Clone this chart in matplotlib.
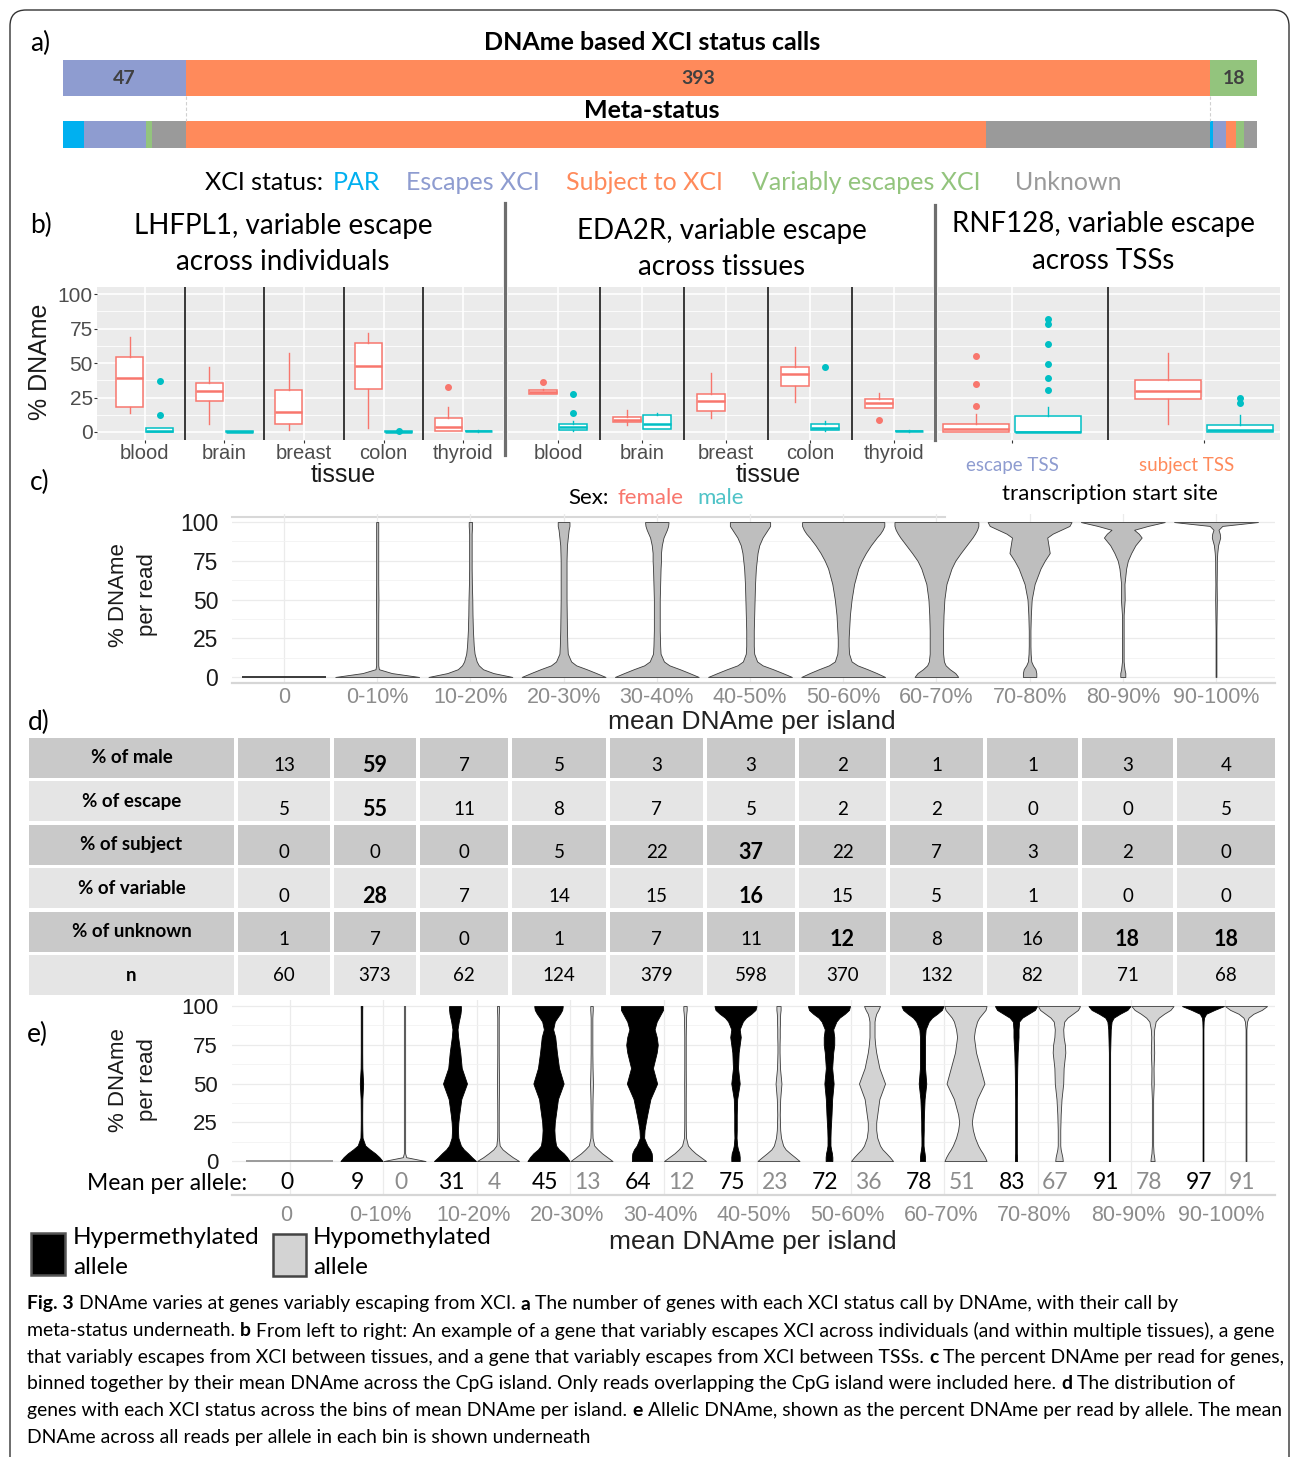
import numpy as np
import matplotlib
matplotlib.use("Agg")
import matplotlib.pyplot as plt
from matplotlib import font_manager
from matplotlib.patches import FancyBboxPatch, Rectangle
from matplotlib.transforms import ScaledTranslation

W, H = 1292, 1457
plt.rcParams["font.family"] = ["Liberation Sans", "DejaVu Sans"]
CAL = ["Lato", "DejaVu Sans"]
ARIAL = ["Liberation Sans", "DejaVu Sans"]
_names = {f.name for f in font_manager.fontManager.ttflist}
CAP_FONT = ["Liberation Sans Narrow", "DejaVu Sans"] if "Liberation Sans Narrow" in _names else CAL

# ---------------- panel a: XCI status calls ----------------
STATUS_NAMES = ["PAR", "Escapes XCI", "Subject to XCI", "Variably escapes XCI", "Unknown"]
STATUS_COLORS = ["#00B0F0", "#8E9CD0", "#FF8A5B", "#93C47D", "#9A9A9A"]
CALL_COUNTS = [47, 393, 18]          # escape, subject, variable
CALL_COLORS = ["#8E9CD0", "#FF8A5B", "#93C47D"]
# meta-status inside each DNAme call, in STATUS_NAMES order
META_IN_ESCAPE = [8, 24, 0, 2, 13]
META_IN_SUBJECT = [0, 0, 307, 0, 86]
META_IN_VARIABLE = [1, 5, 4, 3, 5]

# ---------------- panel b: box summaries (whislo, q1, med, q3, whishi) ----------------
FEMALE_C, MALE_C = "#F8766D", "#00BFC4"
TISSUES = ["blood", "brain", "breast", "colon", "thyroid"]

LHFPL1_F = [(13.7, 17.9, 39.2, 54.7, 68.9), (5.6, 22.3, 29.9, 35.5, 47.3),
            (1.5, 5.6, 14.7, 30.1, 57.6), (3.2, 30.9, 47.5, 64.7, 71.8),
            (0.5, 0.8, 3.9, 10.5, 17.9)]
LHFPL1_F_OUT = [[], [], [], [], [32.6]]
LHFPL1_M = [(0.0, 0.0, 0.7, 2.9, 3.2), (0.0, 0.1, 0.2, 0.4, 0.5), None,
            (0.0, 0.1, 0.3, 0.5, 0.8), (0.3, 0.5, 0.7, 0.9, 1.1)]
LHFPL1_M_OUT = [[37.3, 12.3], [], [], [0.5], []]

EDA2R_F = [(27.5, 27.7, 29.2, 30.6, 31.5), (5.1, 6.9, 8.6, 11.0, 16.2),
           (10.0, 15.0, 22.3, 27.5, 42.9), (22.1, 33.6, 42.4, 46.8, 61.3),
           (17.4, 17.4, 20.8, 24.0, 28.2)]
EDA2R_F_OUT = [[36.0], [], [], [], [8.6]]
EDA2R_M = [(0.8, 1.5, 3.7, 6.1, 8.0), (2.0, 2.0, 5.6, 12.0, 13.7), None,
           (0.8, 1.2, 3.2, 6.1, 8.1), (0.3, 0.5, 0.7, 0.9, 1.1)]
EDA2R_M_OUT = [[27.7, 13.7], [], [], [47.3], []]

TSS_GROUPS = ["escape TSS", "subject TSS"]
RNF128_F = [(0.0, 0.2, 2.0, 5.6, 13.4), (6.1, 23.9, 29.8, 37.8, 57.3)]
RNF128_F_OUT = [[55.4, 34.6, 18.8], []]
RNF128_M = [(0.0, 0.0, 0.3, 11.5, 17.8), (0.0, 0.3, 1.5, 5.1, 12.4)]
RNF128_M_OUT = [[81.7, 78.0, 63.9, 49.0, 39.5, 30.5], [24.4, 21.2]]

# ---------------- panels c and e: violin width profiles ----------------
BINS = ["0", "0-10%", "10-20%", "20-30%", "30-40%", "40-50%",
        "50-60%", "60-70%", "70-80%", "80-90%", "90-100%"]
LEVELS = [0, 2.5, 5, 7.5, 10, 15, 20, 25, 30, 40, 50, 60, 70, 75, 80, 85, 90, 92.5, 95, 97.5, 100]

READ_PROFILES = [
    [1.00, 0, 0, 0, 0, 0, 0, 0, 0, 0, 0, 0, 0, 0, 0, 0, 0, 0, 0, 0, 0],
    [1.00, 0.35, 0.04, 0.025, 0.025, 0.025, 0.025, 0.025, 0.025, 0.025, 0.03, 0.025, 0.025, 0.025, 0.025, 0.025, 0.025, 0.025, 0.025, 0.025, 0.025],
    [1.00, 0.55, 0.30, 0.20, 0.15, 0.10, 0.08, 0.07, 0.06, 0.05, 0.045, 0.035, 0.03, 0.03, 0.03, 0.03, 0.03, 0.03, 0.035, 0.04, 0.04],
    [1.00, 0.78, 0.55, 0.30, 0.18, 0.10, 0.09, 0.085, 0.08, 0.075, 0.07, 0.07, 0.07, 0.07, 0.075, 0.08, 0.10, 0.11, 0.12, 0.14, 0.14],
    [1.00, 0.78, 0.55, 0.30, 0.17, 0.09, 0.08, 0.075, 0.07, 0.07, 0.07, 0.08, 0.09, 0.10, 0.10, 0.12, 0.16, 0.20, 0.24, 0.27, 0.28],
    [1.00, 0.78, 0.55, 0.30, 0.17, 0.10, 0.09, 0.09, 0.09, 0.10, 0.11, 0.12, 0.14, 0.16, 0.18, 0.22, 0.30, 0.36, 0.42, 0.48, 0.48],
    [1.00, 0.80, 0.58, 0.34, 0.20, 0.14, 0.13, 0.13, 0.14, 0.16, 0.20, 0.26, 0.36, 0.44, 0.54, 0.66, 0.80, 0.88, 0.94, 0.98, 0.98],
    [0.52, 0.45, 0.32, 0.22, 0.18, 0.16, 0.16, 0.16, 0.16, 0.17, 0.19, 0.24, 0.36, 0.45, 0.58, 0.72, 0.86, 0.92, 0.97, 1.00, 1.00],
    [0.16, 0.16, 0.14, 0.08, 0.04, 0.025, 0.02, 0.02, 0.02, 0.03, 0.05, 0.12, 0.26, 0.36, 0.48, 0.45, 0.42, 0.55, 0.75, 0.95, 1.00],
    [0.06, 0.06, 0.04, 0.03, 0.02, 0.02, 0.02, 0.02, 0.02, 0.02, 0.045, 0.04, 0.08, 0.12, 0.20, 0.30, 0.45, 0.38, 0.27, 0.60, 1.00],
    [0.01, 0.01, 0.01, 0.01, 0.01, 0.01, 0.01, 0.01, 0.01, 0.015, 0.02, 0.015, 0.02, 0.02, 0.03, 0.05, 0.10, 0.09, 0.06, 0.15, 1.00],
]

ZERO_ALLELE_PROFILE = [1.00, 0, 0, 0, 0, 0, 0, 0, 0, 0, 0, 0, 0, 0, 0, 0, 0, 0, 0, 0, 0]
HYPER_PROFILES = [
    [1.00, 0.85, 0.65, 0.40, 0.18, 0.05, 0.04, 0.035, 0.035, 0.04, 0.08, 0.04, 0.035, 0.035, 0.035, 0.035, 0.035, 0.035, 0.035, 0.035, 0.04],
    [1.00, 0.80, 0.62, 0.42, 0.28, 0.16, 0.14, 0.16, 0.20, 0.30, 0.57, 0.32, 0.25, 0.20, 0.15, 0.12, 0.18, 0.22, 0.26, 0.28, 0.28],
    [1.00, 0.88, 0.72, 0.50, 0.36, 0.30, 0.28, 0.30, 0.35, 0.45, 0.72, 0.50, 0.40, 0.36, 0.32, 0.22, 0.30, 0.42, 0.55, 0.65, 0.68],
    [0.48, 0.48, 0.46, 0.38, 0.25, 0.10, 0.12, 0.18, 0.25, 0.40, 0.72, 0.52, 0.70, 0.75, 0.70, 0.60, 0.70, 0.80, 0.90, 1.00, 1.00],
    [0.20, 0.20, 0.18, 0.12, 0.08, 0.05, 0.06, 0.06, 0.06, 0.08, 0.20, 0.12, 0.15, 0.20, 0.25, 0.20, 0.35, 0.50, 0.75, 0.95, 1.00],
    [0.16, 0.16, 0.14, 0.10, 0.07, 0.07, 0.08, 0.10, 0.12, 0.15, 0.22, 0.15, 0.20, 0.25, 0.25, 0.20, 0.35, 0.50, 0.75, 0.95, 1.00],
    [0.12, 0.12, 0.10, 0.07, 0.05, 0.05, 0.06, 0.06, 0.07, 0.10, 0.18, 0.12, 0.12, 0.12, 0.12, 0.15, 0.30, 0.45, 0.70, 0.92, 1.00],
    [0.05, 0.05, 0.04, 0.04, 0.04, 0.04, 0.04, 0.04, 0.04, 0.04, 0.05, 0.06, 0.08, 0.10, 0.12, 0.12, 0.15, 0.30, 0.60, 0.90, 1.00],
    [0.03, 0.03, 0.03, 0.03, 0.03, 0.03, 0.03, 0.03, 0.03, 0.03, 0.03, 0.03, 0.03, 0.04, 0.05, 0.06, 0.10, 0.20, 0.50, 0.85, 1.00],
    [0.02, 0.02, 0.02, 0.02, 0.02, 0.02, 0.02, 0.02, 0.02, 0.02, 0.02, 0.02, 0.02, 0.02, 0.02, 0.02, 0.03, 0.05, 0.15, 0.55, 1.00],
]
HYPO_PROFILES = [
    [1.00, 0.08, 0.03, 0.03, 0.03, 0.03, 0.03, 0.03, 0.03, 0.03, 0.03, 0.03, 0.03, 0.03, 0.03, 0.03, 0.03, 0.03, 0.03, 0.03, 0.03],
    [1.00, 0.70, 0.45, 0.22, 0.08, 0.04, 0.035, 0.035, 0.035, 0.04, 0.05, 0.04, 0.035, 0.035, 0.035, 0.035, 0.035, 0.035, 0.04, 0.05, 0.05],
    [1.00, 0.75, 0.50, 0.30, 0.13, 0.05, 0.04, 0.04, 0.04, 0.05, 0.07, 0.05, 0.04, 0.04, 0.04, 0.04, 0.04, 0.04, 0.05, 0.06, 0.06],
    [1.00, 0.75, 0.50, 0.30, 0.14, 0.05, 0.04, 0.035, 0.035, 0.035, 0.04, 0.035, 0.035, 0.035, 0.035, 0.04, 0.05, 0.05, 0.06, 0.08, 0.08],
    [1.00, 0.78, 0.55, 0.34, 0.22, 0.12, 0.08, 0.07, 0.06, 0.08, 0.14, 0.07, 0.05, 0.05, 0.06, 0.06, 0.07, 0.07, 0.08, 0.10, 0.10],
    [1.00, 0.85, 0.68, 0.50, 0.38, 0.25, 0.20, 0.20, 0.25, 0.35, 0.62, 0.35, 0.20, 0.15, 0.12, 0.12, 0.12, 0.15, 0.20, 0.30, 0.38],
    [1.00, 0.92, 0.82, 0.70, 0.60, 0.45, 0.35, 0.30, 0.35, 0.55, 0.90, 0.70, 0.50, 0.45, 0.40, 0.45, 0.55, 0.65, 0.80, 0.95, 1.00],
    [0.18, 0.16, 0.12, 0.08, 0.06, 0.06, 0.06, 0.07, 0.08, 0.12, 0.20, 0.22, 0.30, 0.28, 0.22, 0.20, 0.25, 0.40, 0.65, 0.90, 1.00],
    [0.10, 0.08, 0.05, 0.04, 0.03, 0.03, 0.03, 0.03, 0.03, 0.03, 0.06, 0.05, 0.08, 0.07, 0.06, 0.08, 0.15, 0.30, 0.55, 0.85, 1.00],
    [0.02, 0.02, 0.02, 0.02, 0.02, 0.02, 0.02, 0.02, 0.02, 0.02, 0.02, 0.02, 0.02, 0.02, 0.02, 0.02, 0.05, 0.12, 0.35, 0.75, 1.00],
]
MEAN_HYPER = [0, 9, 31, 45, 64, 75, 72, 78, 83, 91, 97]
MEAN_HYPO = [None, 0, 4, 13, 12, 23, 36, 51, 67, 78, 91]

# ---------------- panel d: status distribution table ----------------
ROW_LABELS = ["% of male", "% of escape", "% of subject", "% of variable", "% of unknown", "n"]
PCT_MALE = [13, 59, 7, 5, 3, 3, 2, 1, 1, 3, 4]
PCT_ESCAPE = [5, 55, 11, 8, 7, 5, 2, 2, 0, 0, 5]
PCT_SUBJECT = [0, 0, 0, 5, 22, 37, 22, 7, 3, 2, 0]
PCT_VARIABLE = [0, 28, 7, 14, 15, 16, 15, 5, 1, 0, 0]
PCT_UNKNOWN = [1, 7, 0, 1, 7, 11, 12, 8, 16, 18, 18]
N_GENES = [60, 373, 62, 124, 379, 598, 370, 132, 82, 71, 68]
BOLD_CELLS = [(0, 1), (1, 1), (2, 5), (3, 1), (3, 5), (4, 6), (4, 9), (4, 10)]

CAPTION = [
    [("Fig. 3", True), ("DNAme varies at genes variably escaping from XCI.", False), ("a", True),
     ("The number of genes with each XCI status call by DNAme, with their call by", False)],
    [("meta-status underneath.", False), ("b", True),
     ("From left to right: An example of a gene that variably escapes XCI across individuals (and within multiple tissues), a gene", False)],
    [("that variably escapes from XCI between tissues, and a gene that variably escapes from XCI between TSSs.", False),
     ("c", True), ("The percent DNAme per read for genes,", False)],
    [("binned together by their mean DNAme across the CpG island. Only reads overlapping the CpG island were included here.", False),
     ("d", True), ("The distribution of", False)],
    [("genes with each XCI status across the bins of mean DNAme per island.", False), ("e", True),
     ("Allelic DNAme, shown as the percent DNAme per read by allele. The mean", False)],
    [("DNAme across all reads per allele in each bin is shown underneath", False)],
]

fig = plt.figure(figsize=(W / 100, H / 100), dpi=100)
canvas = fig.add_axes([0, 0, 1, 1])
canvas.set_xlim(0, W)
canvas.set_ylim(H, 0)
canvas.axis("off")


def px_axes(left, top, right, bottom):
    return fig.add_axes([left / W, 1 - bottom / H, (right - left) / W, (bottom - top) / H])


def label(x, y, s, size, color="black", ha="center", va="center", family=CAL, weight="normal", **kw):
    return canvas.text(x, y, s, fontsize=size, color=color, ha=ha, va=va,
                       family=family, fontweight=weight, **kw)


canvas.add_patch(FancyBboxPatch((10, 10), 1279, 1490, boxstyle="round,pad=0,rounding_size=16",
                                fc="none", ec="#333333", lw=1.0))

# ---------------- a) ----------------
label(30, 43, "a)", 19, ha="left")
label(652, 43, "DNAme based XCI status calls", 18, weight="bold")
label(652, 110, "Meta-status", 18, weight="bold")

ax_a = px_axes(63, 60, 1257, 148)
ax_a.set_xlim(0, sum(CALL_COUNTS))
ax_a.set_ylim(148, 60)
ax_a.axis("off")
left = 0
for n, c in zip(CALL_COUNTS, CALL_COLORS):
    ax_a.barh(78, n, left=left, height=36, color=c, lw=0)
    ax_a.text(left + n / 2, 78, str(n), ha="center", va="center", fontsize=14,
              fontweight="bold", color="#404040", family=CAL)
    left += n
left = 0
for group in (META_IN_ESCAPE, META_IN_SUBJECT, META_IN_VARIABLE):
    for n, c in zip(group, STATUS_COLORS):
        if n:
            ax_a.barh(134.5, n, left=left, height=27, color=c, lw=0)
        left += n
for x in np.cumsum(CALL_COUNTS)[:-1]:
    ax_a.plot([x, x], [96, 121], ls=(0, (3, 2)), color="#D0D0D0", lw=0.8)

legend_x = [333, 406, 566, 752, 1015]
label(205, 182, "XCI status:", 18, ha="left")
for x, name, c in zip(legend_x, STATUS_NAMES, STATUS_COLORS):
    label(x, 182, name, 18, color=c, ha="left")

# ---------------- b) ----------------
label(30, 225, "b)", 19, ha="left")
label(283, 226, "LHFPL1, variable escape", 20)
label(283, 262, "across individuals", 20)
label(722, 231, "EDA2R, variable escape", 20)
label(722, 267, "across tissues", 20)
label(1103, 224, "RNF128, variable escape", 20)
label(1103, 261, "across TSSs", 20)
canvas.plot([505, 505], [203, 455], color="#6E6E6E", lw=2.3)
canvas.plot([935, 935], [205, 440], color="#6E6E6E", lw=2.3)


def box_panel(ax, groups, fem, fem_out, male, male_out, offset, width, show_y, show_x):
    ax.set_facecolor("#EBEBEB")
    for s in ax.spines.values():
        s.set_visible(False)
    for stats, outs, pos, col in ((fem, fem_out, -offset, FEMALE_C), (male, male_out, offset, MALE_C)):
        for i, st in enumerate(stats):
            if st is None:
                continue
            lo, q1, med, q3, hi = st
            ax.bxp([dict(whislo=lo, q1=q1, med=med, q3=q3, whishi=hi, fliers=outs[i])],
                   positions=[i + pos], widths=width, patch_artist=True, showcaps=False,
                   manage_ticks=False,
                   boxprops=dict(facecolor="white", edgecolor=col, lw=1.1),
                   medianprops=dict(color=col, lw=1.8),
                   whiskerprops=dict(color=col, lw=1.0),
                   flierprops=dict(marker="o", mfc=col, mec=col, ms=4, ls="none"))
    for i in range(len(groups) - 1):
        ax.axvline(i + 0.5, color="#1A1A1A", lw=1.2)
    ax.set_ylim(-5.8, 105.1)
    ax.set_yticks([0, 25, 50, 75, 100])
    ax.set_yticks([12.5, 37.5, 62.5, 87.5], minor=True)
    ax.set_xticks(range(len(groups)))
    ax.set_xticklabels(groups if show_x else [""] * len(groups))
    ax.grid(which="major", color="white", lw=1.2)
    ax.grid(which="minor", axis="y", color="white", lw=0.6)
    ax.set_axisbelow(True)
    ax.tick_params(axis="both", which="major", length=2, color="#333333",
                   labelcolor="#4D4D4D", labelsize=14.5, pad=1)
    ax.tick_params(axis="y", labelsize=15)
    ax.tick_params(axis="both", which="minor", length=0)
    if not show_y:
        ax.set_yticklabels([])
        ax.tick_params(axis="y", length=0)


ax_b1 = px_axes(97, 287, 503, 440)
ax_b1.set_xlim(-0.6, 4.5)
box_panel(ax_b1, TISSUES, LHFPL1_F, LHFPL1_F_OUT, LHFPL1_M, LHFPL1_M_OUT, 0.19, 0.34, True, True)
ax_b2 = px_axes(508, 287, 934, 440)
ax_b2.set_xlim(-0.595, 4.476)
box_panel(ax_b2, TISSUES, EDA2R_F, EDA2R_F_OUT, EDA2R_M, EDA2R_M_OUT, 0.18, 0.34, False, True)
ax_b3 = px_axes(938, 287, 1280, 440)
ax_b3.set_xlim(-0.385, 1.396)
box_panel(ax_b3, TSS_GROUPS, RNF128_F, RNF128_F_OUT, RNF128_M, RNF128_M_OUT, 0.1875, 0.34, False, False)

label(40, 362, "% DNAme", 18, family=ARIAL, rotation=90, color="#1A1A1A")
label(343, 475, "tissue", 18, family=ARIAL, color="#1A1A1A")
label(768, 475, "tissue", 18, family=ARIAL, color="#1A1A1A")
label(1012, 465, "escape TSS", 13.5, color=STATUS_COLORS[1])
label(1187, 465, "subject TSS", 13.5, color=STATUS_COLORS[2])
label(1110, 494, "transcription start site", 16)
label(568, 498, "Sex:", 16, ha="left")
label(617, 498, "female", 16, color=FEMALE_C, ha="left")
label(697, 498, "male", 16, color="#4FC3C7", ha="left")

# ---------------- c) ----------------
label(30, 482, "c)", 19, ha="left")
canvas.plot([232, 945], [517, 517], color="#D8D8D8", lw=1.5)


def violin(ax, center, profile, half, face, edge, lw=0.6):
    w = np.asarray(profile, float) * half
    nz = np.nonzero(w)[0]
    if nz[-1] == 0:
        # a bin with every read at zero collapses to a flat bar
        ax.plot([center - w[0], center + w[0]], [0, 0], color=edge, lw=1.4, zorder=3,
                solid_capstyle="butt")
        return
    stop = min(nz[-1] + 2, len(w))
    ax.fill_betweenx(LEVELS[:stop], center - w[:stop], center + w[:stop],
                     facecolor=face, edgecolor=edge, linewidth=lw, zorder=3)


def violin_axes(ax, left_px, right_px, cat0, step, ylim, xpad):
    ax.set_facecolor("none")
    ax.set_xlim((left_px - cat0) / step, (right_px - cat0) / step)
    ax.set_ylim(*ylim)
    for s in ("top", "right", "left"):
        ax.spines[s].set_visible(False)
    ax.spines["bottom"].set_color("#D6D6D6")
    ax.spines["bottom"].set_linewidth(1.6)
    ax.set_yticks([0, 25, 50, 75, 100])
    ax.set_yticks([12.5, 37.5, 62.5, 87.5], minor=True)
    ax.set_xticks(range(len(BINS)))
    ax.set_xticklabels(BINS)
    ax.grid(which="major", color="#EBEBEB", lw=0.9)
    ax.grid(which="minor", axis="y", color="#F2F2F2", lw=0.6)
    ax.set_axisbelow(True)
    ax.tick_params(axis="y", which="major", length=0, labelsize=16.5, labelcolor="#1A1A1A", pad=10)
    ax.tick_params(axis="x", which="major", length=0, labelsize=15.5, labelcolor="#8C8C8C", pad=xpad)
    ax.tick_params(which="minor", length=0)


ax_c = px_axes(232, 514, 1275, 683)
violin_axes(ax_c, 232, 1275, 284.0, 93.2, (-3.9, 105.2), 3)
for i, prof in enumerate(READ_PROFILES):
    violin(ax_c, i, prof, 0.45, "#BEBEBE", "#3A3A3A")
label(133, 595, "% DNAme\nper read", 16, family=ARIAL, rotation=90, color="#1A1A1A", linespacing=1.45)
label(752, 722, "mean DNAme per island", 19, family=ARIAL, color="#222222")

# ---------------- d) ----------------
label(28, 722, "d)", 19, ha="left")
COL_EDGES = [27, 236, 332, 418, 510, 608, 705, 797, 888, 985, 1080, 1175, 1277]
ROW_EDGES = np.linspace(736, 997, 7)
table_rows = [PCT_MALE, PCT_ESCAPE, PCT_SUBJECT, PCT_VARIABLE, PCT_UNKNOWN, N_GENES]
gap = 1.6
for r, (name, values) in enumerate(zip(ROW_LABELS, table_rows)):
    top, bot = ROW_EDGES[r], ROW_EDGES[r + 1]
    fill = "#C9C9C9" if r % 2 == 0 else "#E5E5E5"
    for c in range(len(COL_EDGES) - 1):
        canvas.add_patch(Rectangle((COL_EDGES[c] + gap, top + gap), COL_EDGES[c + 1] - COL_EDGES[c] - 2 * gap,
                                   bot - top - 2 * gap, fc=fill, ec="none"))
    cy = (top + bot) / 2
    label((COL_EDGES[0] + COL_EDGES[1]) / 2, cy, name, 13.5, weight="bold")
    vy = cy if r == len(ROW_LABELS) - 1 else cy + 8
    for c, v in enumerate(values):
        bold = (r, c) in BOLD_CELLS
        label((COL_EDGES[c + 1] + COL_EDGES[c + 2]) / 2, vy, str(v), 15.5 if bold else 13.5,
              weight="bold" if bold else "normal")

# ---------------- e) ----------------
label(27, 1034, "e)", 19, ha="left")
ax_e = px_axes(232, 1000, 1275, 1195)
violin_axes(ax_e, 232, 1275, 289.5, 93.5, (-21.9, 103.9), 7)
ax_e.tick_params(axis="y", labelsize=16)
# bin names sit a few pixels left of the violin pairs
shift = ScaledTranslation(-3 / 100, 0, fig.dpi_scale_trans)
for tl in ax_e.get_xticklabels():
    tl.set_transform(tl.get_transform() + shift)
violin(ax_e, 0, ZERO_ALLELE_PROFILE, 0.46, "#B5B5B5", "#9A9A9A")
for i in range(1, len(BINS)):
    violin(ax_e, i + 0.23, HYPO_PROFILES[i - 1], 0.225, "#D3D3D3", "#3A3A3A")
    violin(ax_e, i - 0.23, HYPER_PROFILES[i - 1], 0.225, "black", "black")
for i, (hi, lo) in enumerate(zip(MEAN_HYPER, MEAN_HYPO)):
    if lo is None:
        ax_e.text(i - 0.03, -13.6, str(hi), ha="center", va="center", fontsize=16.5, family=CAL)
        continue
    ax_e.text(i - 0.27, -13.6, str(hi), ha="center", va="center", fontsize=16.5, family=CAL)
    ax_e.text(i + 0.19, -13.6, str(lo), ha="center", va="center", fontsize=16.5, family=CAL, color="#8C8C8C")
label(87, 1183, "Mean per allele:", 16.5, ha="left")
label(133, 1080, "% DNAme\nper read", 16, family=ARIAL, rotation=90, color="#1A1A1A", linespacing=1.45)
label(753, 1242, "mean DNAme per island", 19, family=ARIAL, color="#222222")

canvas.add_patch(Rectangle((31, 1233), 34, 42, fc="black", ec="#555555", lw=1.8))
canvas.add_patch(Rectangle((273, 1234), 33, 42, fc="#D3D3D3", ec="#444444", lw=1.8))
label(73, 1237, "Hypermethylated", 17.5, ha="left")
label(73, 1268, "allele", 17.5, ha="left")
label(313, 1237, "Hypomethylated", 17.5, ha="left")
label(313, 1268, "allele", 17.5, ha="left")

# ---------------- caption ----------------
renderer = fig.canvas.get_renderer()


def text_width(s, size, bold=False):
    t = canvas.text(0, 0, s, fontsize=size, family=CAP_FONT, fontweight="bold" if bold else "normal")
    w = t.get_window_extent(renderer=renderer).width
    t.remove()
    return w


probe = 12.0
line2 = " ".join(s for s, _ in CAPTION[1])
cap_size = probe * (1246 / text_width(line2, probe))
space_w = text_width("n n", cap_size) - text_width("nn", cap_size)
for k, runs in enumerate(CAPTION):
    y = 1304 + k * 26.6
    x = 27
    for s, bold in runs:
        t = canvas.text(x, y, s, fontsize=cap_size, family=CAP_FONT, ha="left", va="center",
                        fontweight="bold" if bold else "normal")
        x += t.get_window_extent(renderer=renderer).width + space_w

fig.savefig("out.png", dpi=100)
